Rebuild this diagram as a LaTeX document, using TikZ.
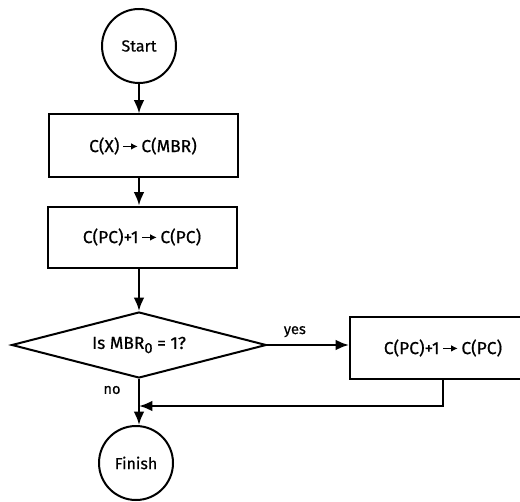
\documentclass[tikz,border=0pt]{standalone}
\usepackage{fontspec}
\setmainfont{Fira Sans}[FakeBold=1.2]
\usetikzlibrary{shapes.geometric,arrows.meta}
\newcommand{\ar}{\,\tikz[baseline=-0.62ex]\draw[line width=1.1pt,-{Latex[length=5pt,width=5pt]}] (0,0)--(11pt,0);\,}
\newcommand{\heavy}{\addfontfeatures{FakeBold=0.6}}
\tikzset{
  term/.style={circle,draw,line width=1.5pt,minimum size=55.5pt,inner sep=0pt,font=\fontsize{12}{14}\selectfont\heavy},
  procbox/.style={rectangle,draw,line width=1.5pt,inner sep=0pt,font=\fontsize{13}{15}\selectfont\heavy},
  decide/.style={diamond,draw,line width=1.5pt,inner sep=0pt,aspect=3.86,minimum width=191pt,minimum height=49.5pt,font=\fontsize{13}{15}\selectfont\heavy},
  flow/.style={line width=1.7pt,-{Latex[length=10pt,width=8pt]}},
  lbl/.style={font=\fontsize{11}{13}\selectfont\heavy,inner sep=0pt}
}
\begin{document}
\begin{tikzpicture}[x=0.75pt,y=-0.75pt]
\useasboundingbox (0,0) rectangle (520,502);
\node[term] (start) at (139,46) {Start};
\node[procbox,minimum width=141.75pt,minimum height=47.25pt] (b1) at (143,146) {C(X)\ar C(MBR)};
\node[procbox,minimum width=141.75pt,minimum height=45.75pt] (b2) at (142,237) {C(PC)+1\ar C(PC)};
\node[decide] (d) at (139,345) {Is MBR\raisebox{-0.45ex}{\fontsize{11}{13}\selectfont 0} = 1?};
\node[procbox,minimum width=139.5pt,minimum height=46.5pt] (b3) at (443,348) {C(PC)+1\ar C(PC)};
\node[term] (fin) at (136,463) {Finish};
\coordinate (j) at (139,406);
\coordinate (nolbl) at (112,390);
\draw[flow] (start.south) -- (start.south |- b1.north);
\draw[flow] (b1.south -| start.south) -- (start.south |- b2.north);
\draw[flow] (b2.south -| start.south) -- (d.north);
\draw[flow] (d.east) -- (d.east -| b3.west) node[lbl,midway,above=5pt,xshift=-10pt] {yes};
\draw[flow] (d.south) -- (fin.north -| d.south);
\node[lbl] at (nolbl) {no};
\draw[line width=1.7pt] (b3.south) -- (b3.south |- j) -- ([xshift=12pt]j);
\draw[flow] (b3.south |- j) -- (j);
\end{tikzpicture}
\end{document}
